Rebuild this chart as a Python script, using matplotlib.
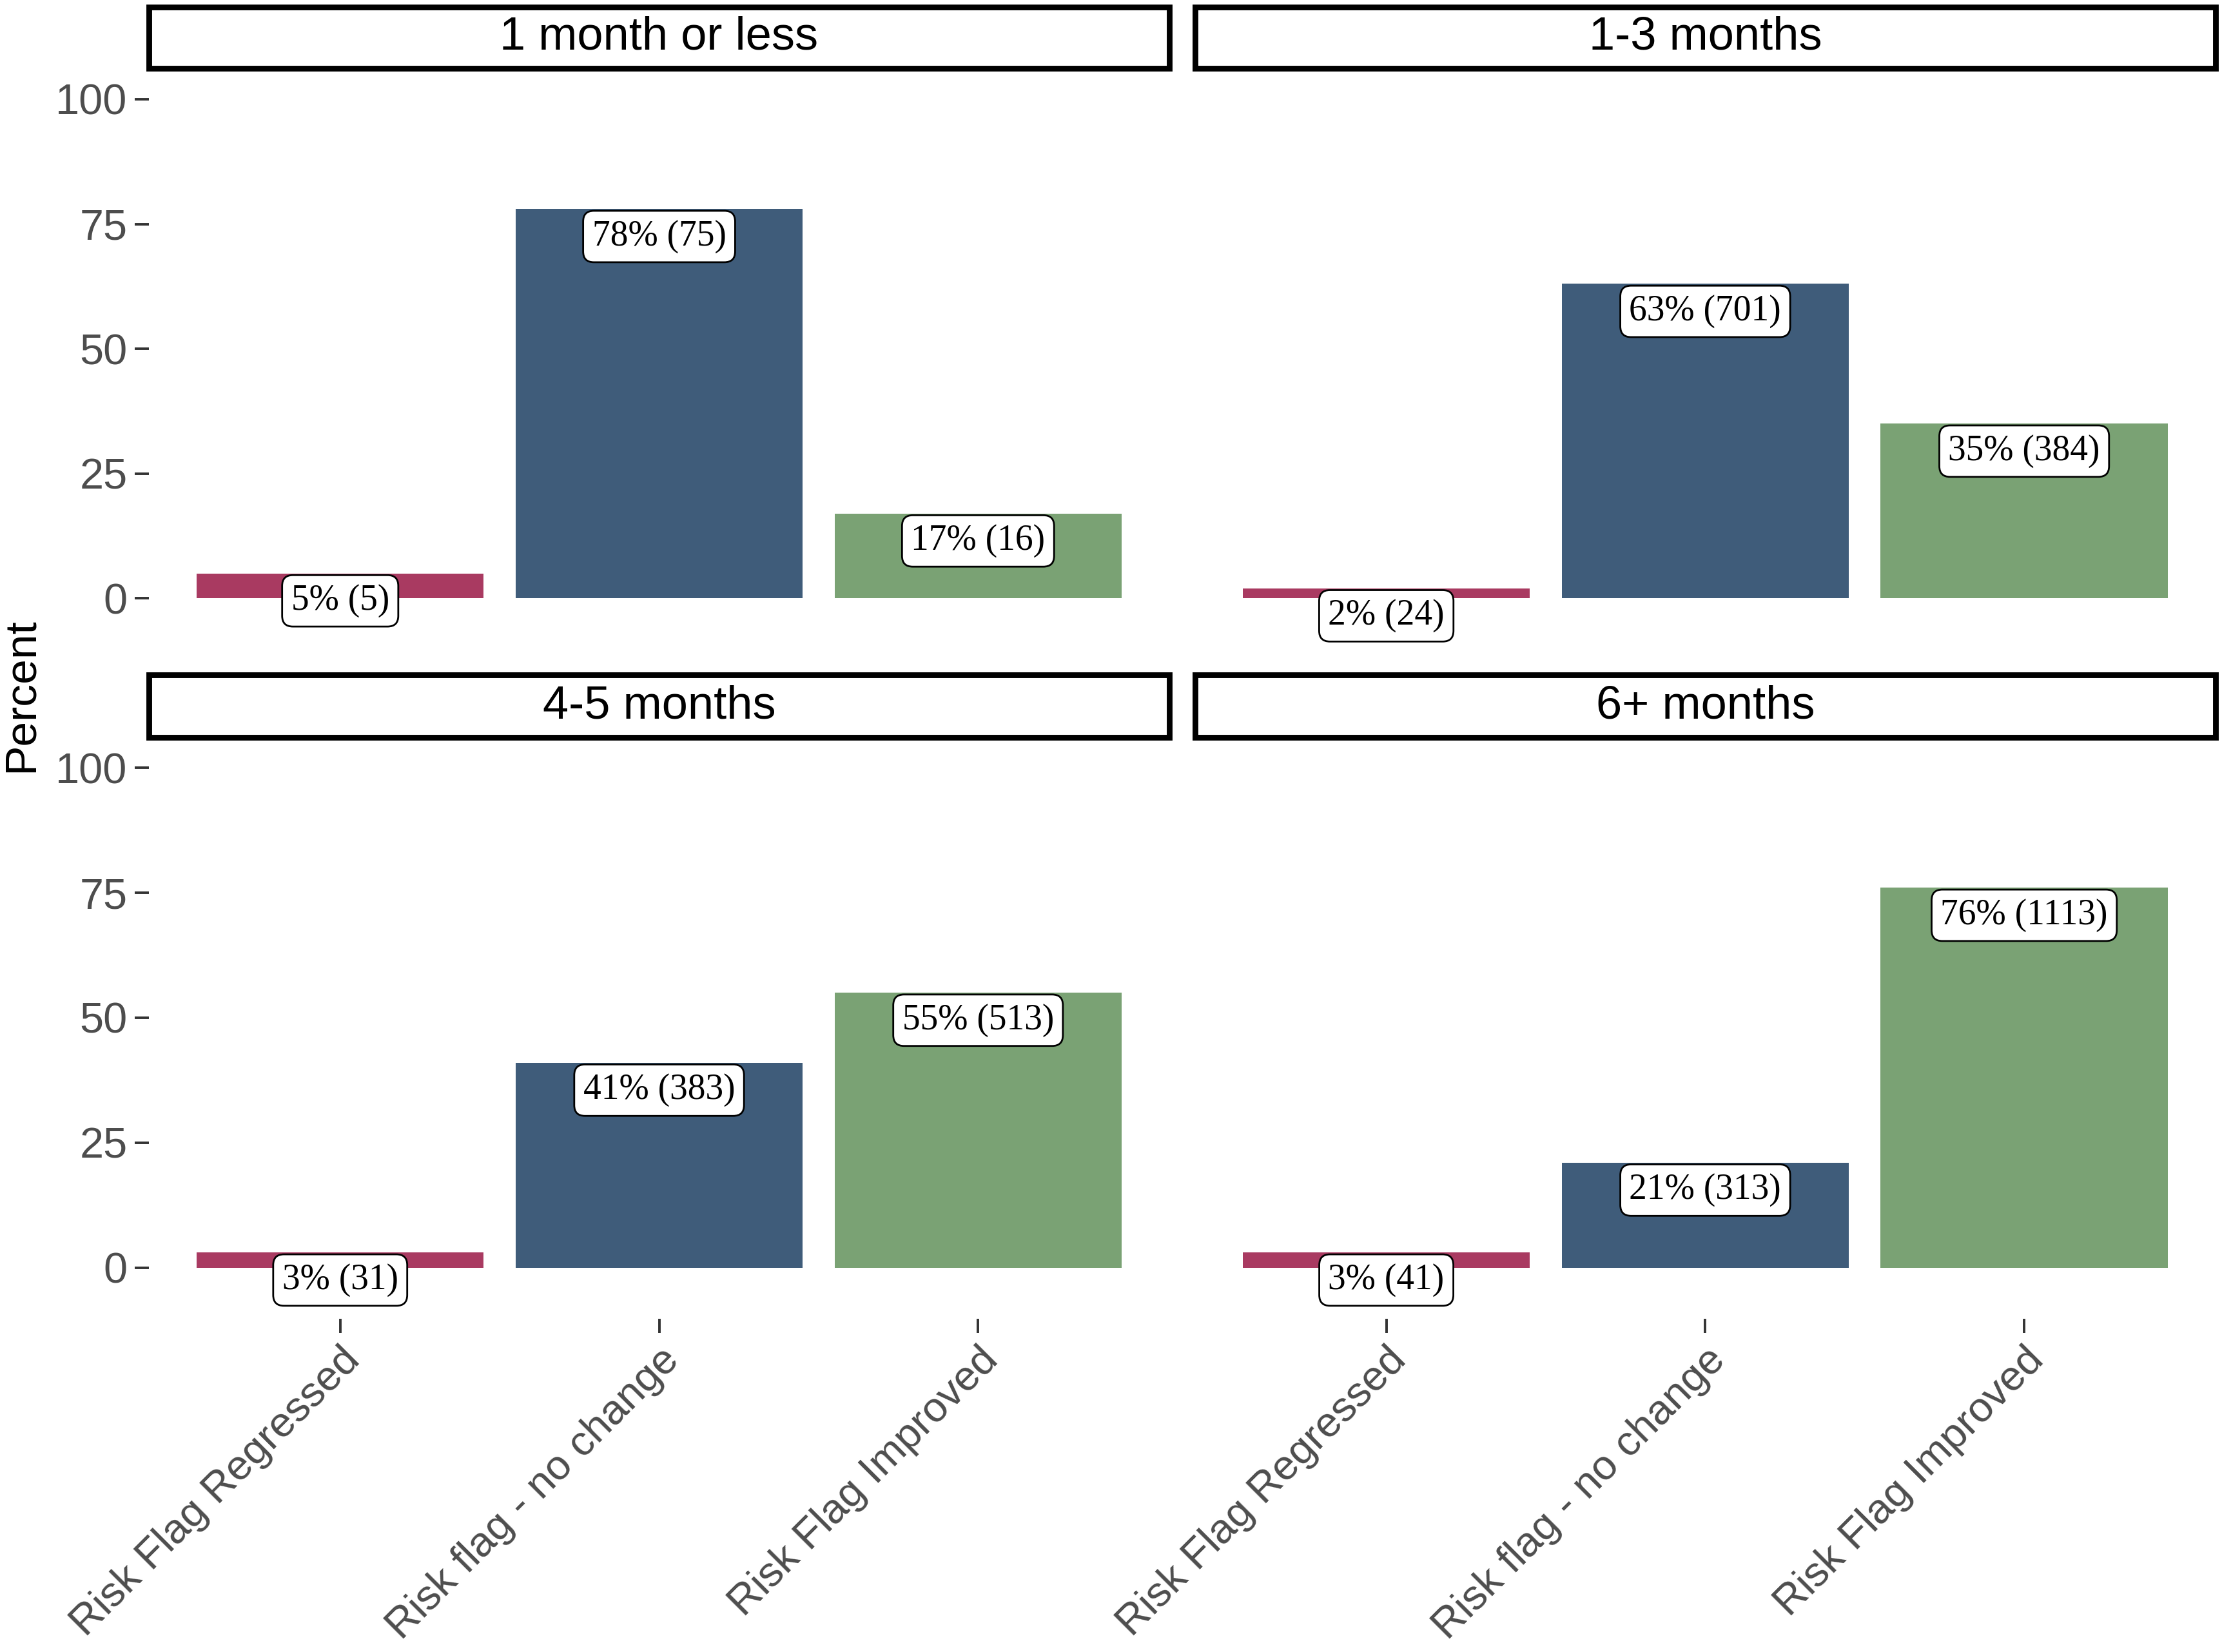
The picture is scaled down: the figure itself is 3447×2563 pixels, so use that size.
import matplotlib.pyplot as plt
from matplotlib.patches import Rectangle

# Daten
panels = ["1 month or less", "1-3 months", "4-5 months", "6+ months"]
kategorien = ["Risk Flag Regressed", "Risk flag - no change", "Risk Flag Improved"]
prozent = [
    [5, 78, 17],
    [2, 63, 35],
    [3, 41, 55],
    [3, 21, 76],
]
anzahl = [
    [5, 75, 16],
    [24, 701, 384],
    [31, 383, 513],
    [41, 313, 1113],
]
farben = ["#A93A61", "#3F5C7A", "#7AA274"]

plt.rcParams['font.family'] = ['Liberation Sans', 'DejaVu Sans']

fig = plt.figure(figsize=(17.24, 12.815), dpi=200)

W, H = 1568.0, 1165.0
spalten = [(105, 825), (843, 1563)]
zeilen = [(5, 48, 51.5, 458), (476, 520, 523, 930)]

x = [1, 2, 3]
for i, name in enumerate(panels):
    r, c = divmod(i, 2)
    xl, xr = spalten[c]
    st, sb, pt, pb = zeilen[r]

    ax = fig.add_axes([xl / W, 1 - pb / H, (xr - xl) / W, (pb - pt) / H])
    ax.bar(x, prozent[i], width=0.9, color=farben, zorder=2)
    for xi, p, n in zip(x, prozent[i], anzahl[i]):
        ax.annotate("%d%% (%d)" % (p, n), xy=(xi, p), xytext=(0, -6),
                    textcoords='offset points', ha='center', va='top',
                    fontsize=20, family='Liberation Serif', zorder=3,
                    bbox=dict(boxstyle='round,pad=0.25,rounding_size=0.3',
                              fc='white', ec='black', lw=1.0))
    ax.set_xlim(0.4, 3.6)
    ax.set_ylim(-10.25, 105.25)
    for s in ax.spines.values():
        s.set_visible(False)
    ax.tick_params(axis='both', length=8, width=1.4, color='#333333',
                   labelcolor='#4D4D4D', labelsize=24, pad=4)
    ax.set_yticks([0, 25, 50, 75, 100])
    ax.set_xticks(x)
    if c == 0:
        ax.set_yticklabels(["0", "25", "50", "75", "100"])
    else:
        ax.tick_params(axis='y', left=False, labelleft=False)
    if r == 1:
        ax.set_xticklabels(kategorien, rotation=45, ha='right', va='top',
                           rotation_mode='anchor', fontsize=23.5)
    else:
        ax.tick_params(axis='x', bottom=False, labelbottom=False)

    # Streifen mit Titel
    sax = fig.add_axes([xl / W, 1 - sb / H, (xr - xl) / W, (sb - st) / H])
    sax.set_xlim(0, 1)
    sax.set_ylim(0, 1)
    sax.axis('off')
    sax.add_patch(Rectangle((0, 0), 1, 1, fc='white', ec='black', lw=3.2,
                            transform=sax.transAxes, clip_on=False))
    sax.text(0.5, 0.5, name, ha='center', va='center', fontsize=26, color='black')

fig.text(15 / W, 1 - 490 / H, "Percent", rotation=90, ha='center', va='center',
         fontsize=25, color='black')

fig.savefig("out.png", dpi=200)
